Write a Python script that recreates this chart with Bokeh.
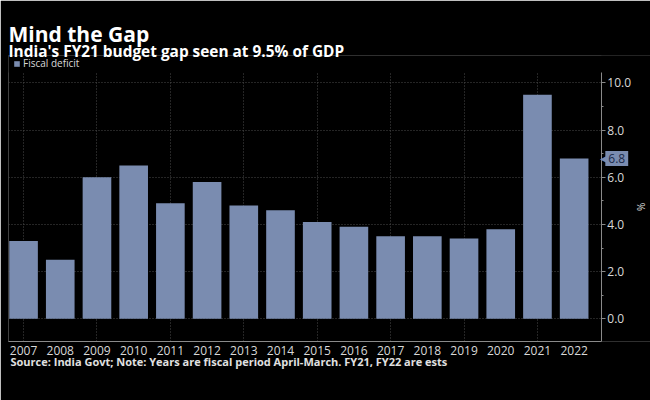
from bokeh.plotting import figure
from bokeh.models import (ColumnDataSource, Range1d, LinearAxis, FixedTicker,
                          SingleIntervalTicker, Legend, LegendItem, Title,
                          Grid, NumeralTickFormatter, BoxAnnotation, Label)
from bokeh.embed import file_html
from bokeh.resources import INLINE

years = [2007, 2008, 2009, 2010, 2011, 2012, 2013, 2014,
         2015, 2016, 2017, 2018, 2019, 2020, 2021, 2022]
deficit = [3.3, 2.5, 6.0, 6.5, 4.9, 5.8, 4.8, 4.6,
           4.1, 3.9, 3.5, 3.5, 3.4, 3.8, 9.5, 6.8]
last_value = deficit[-1]

BAR = "#7a8cb0"
FONT = "Open Sans"
AXIS = "#8a8a8a"
TXT = "#d8d8d8"
W, H = 650, 400
TOP, BOTTOM, LEFT = 55, 59, 8
FH = H - TOP - BOTTOM
X0, XA, X1 = 2006.59, 2022.74, 2024.08   # XA: where the value axis sits
Y0, YA, Y1 = -0.96, 10.44, 11.16         # YA: top of the plotting area

src = ColumnDataSource(data=dict(year=years, deficit=deficit))

p = figure(width=W, height=H,
           x_range=Range1d(X0, X1), y_range=Range1d(Y0, Y1),
           toolbar_location=None, tools="",
           output_backend="svg",
           background_fill_color="black", border_fill_color="black",
           outline_line_color=None,
           min_border_left=LEFT, min_border_top=TOP, min_border_right=0,
           min_border_bottom=BOTTOM, y_axis_location=None)

# grids
p.xgrid.visible = False
p.ygrid.visible = False
p.add_layout(Grid(dimension=1, ticker=SingleIntervalTicker(interval=2),
                  bounds=(0, 10), grid_line_color="#4a4a4a",
                  grid_line_dash="1 2"))
p.add_layout(Grid(dimension=0, ticker=FixedTicker(ticks=years[:-1:2]),
                  grid_line_color="#4a4a4a", grid_line_dash="1 2"))
# keep the grid out of the legend strip and the area right of the axis
p.add_layout(BoxAnnotation(left=XA, fill_color="black", fill_alpha=1,
                           line_color=None, level="underlay"))
p.add_layout(BoxAnnotation(bottom=YA, fill_color="black", fill_alpha=1,
                           line_color=None, level="underlay"))

bars = p.vbar(x="year", top="deficit", width=0.78, source=src,
              fill_color=BAR, line_color=None)

# x axis
p.xaxis.ticker = FixedTicker(ticks=years)
p.xaxis.bounds = (X0, XA)
p.xaxis.major_tick_line_color = None
p.xaxis.minor_tick_line_color = None
p.xaxis.axis_line_color = AXIS
p.xaxis.major_label_text_color = TXT
p.xaxis.major_label_text_font = FONT
p.xaxis.major_label_text_font_size = "12px"
p.xaxis.major_label_standoff = -2

# value axis on the right
yax = LinearAxis(ticker=SingleIntervalTicker(interval=2, num_minor_ticks=2),
                 formatter=NumeralTickFormatter(format="0.0"),
                 axis_label="%", bounds=(Y0, YA), fixed_location=XA)
yax.axis_line_color = AXIS
yax.major_tick_line_color = AXIS
yax.minor_tick_line_color = AXIS
yax.major_tick_out = 4
yax.major_tick_in = 0
yax.minor_tick_out = 2
yax.minor_tick_in = 0
yax.major_label_text_color = TXT
yax.major_label_text_font = FONT
yax.major_label_text_font_size = "12px"
yax.major_label_standoff = 2
yax.axis_label_text_color = TXT
yax.axis_label_text_font = FONT
yax.axis_label_text_font_size = "10px"
yax.axis_label_text_font_style = "normal"
yax.axis_label_standoff = 0
p.add_layout(yax, "right")

# last value tag
p.add_layout(Label(x=XA, y=last_value, x_offset=-1, text="\u25c0",
                   text_color=BAR, text_font_size="10px",
                   text_baseline="middle"))
p.add_layout(Label(x=XA, y=last_value, x_offset=4, text=f"{last_value:.1f}",
                   text_color="#1b2a4a", text_font=FONT, text_font_size="12px",
                   text_baseline="middle", background_fill_color=BAR,
                   padding=3))

# legend at the top of the frame
legend = Legend(items=[LegendItem(label="Fiscal deficit", renderers=[bars])],
                orientation="horizontal", location=(5, FH - 15),
                label_text_color=TXT, label_text_font=FONT,
                label_text_font_size="10px", glyph_width=7, glyph_height=7,
                label_standoff=3, padding=0, margin=0, spacing=0,
                background_fill_alpha=0, border_line_color=None,
                label_height=12)
p.add_layout(legend)

# titles and source note
p.add_layout(Title(text="India's FY21 budget gap seen at 9.5% of GDP",
                   text_color="white", text_font=FONT, text_font_size="15.4px",
                   text_font_style="bold", align="left", offset=0,
                   standoff=-12), "above")
p.add_layout(Title(text="Mind the Gap", text_color="white", text_font=FONT,
                   text_font_size="21px", text_font_style="bold",
                   align="left", offset=0, standoff=-6), "above")
p.add_layout(Title(text="Source: India Govt; Note: Years are fiscal period "
                        "April-March. FY21, FY22 are ests",
                   text_color="#e0e0e0", text_font=FONT,
                   text_font_size="11px", text_font_style="bold",
                   align="left", offset=2, standoff=-12), "below")

open("out.html", "w").write(file_html(p, INLINE))
